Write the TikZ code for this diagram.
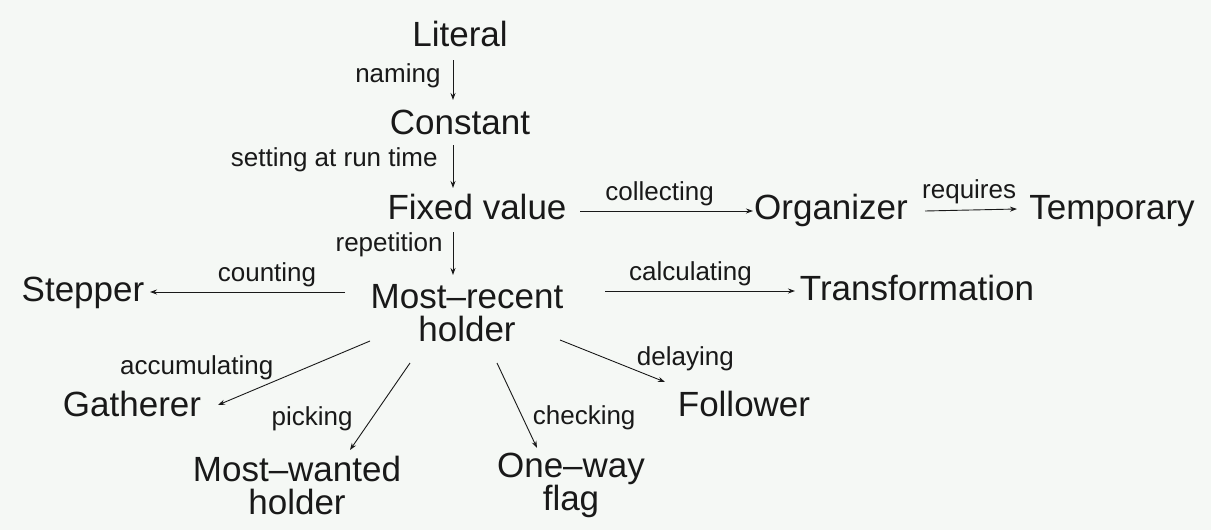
\documentclass[tikz,border=0pt]{standalone}
\usepackage{fontspec}
\setmainfont{Liberation Sans}
\usetikzlibrary{arrows.meta,positioning}
\definecolor{paper}{RGB}{245,248,245}
\definecolor{ink}{RGB}{25,25,25}

\begin{document}
\begin{tikzpicture}[x=1pt,y=-1pt,
        role/.style={on grid,text=ink,font=\fontsize{35}{34}\selectfont,
          text height=25pt,text depth=7pt,inner sep=0pt},
        role pair/.style={on grid,text=ink,font=\fontsize{35}{33}\selectfont,
          align=center,inner sep=0pt},
        act/.style={text=ink,font=\fontsize{26}{28}\selectfont,inner sep=3pt},
        flow/.style={draw=ink,line width=0.9pt,-{Stealth[length=7pt,width=5pt]}}]
        \fill[paper] (0,0) rectangle (1211,530);
        \useasboundingbox (0,0) rectangle (1211,530);

        % the hub and its roles
        \node[role pair] (mrh) at (467,313) {Most--recent\\holder};
        \node[role] (fix) [above right=103pt and 10pt of mrh] {Fixed value};
        \node[role] (con) [above left=85pt and 17pt of fix] {Constant};
        \node[role] (lit) [above=88pt of con] {Literal};
        \node[role] (org) [right=354pt of fix] {Organizer};
        \node[role] (tmp) [right=281pt of org] {Temporary};
        \node[role] (stp) [above left=21pt and 384pt of mrh] {Stepper};
        \node[role] (trf) [above right=22pt and 450pt of mrh] {Transformation};
        \node[role] (gat) [below left=94pt and 335pt of mrh] {Gatherer};
        \node[role pair] (mwh) [below left=172pt and 170pt of mrh] {Most--wanted\\holder};
        \node[role pair] (owf) [below right=172pt and 104pt of mrh] {One--way\\flag};
        \node[role] (fol) [below right=94pt and 277pt of mrh] {Follower};

        % down the column
        \draw[flow] ([shift={(-7,23)}]lit.center) -- node[act,left=9pt,pos=.4]{naming} ([shift={(-7,-25)}]con.center);
        \draw[flow] ([shift={(-7,20)}]con.center) -- node[act,left=12pt,pos=.35]{setting at run time} ([shift={(-24,-22)}]fix.center);
        \draw[flow] ([shift={(-24,22)}]fix.center) -- node[act,left=7pt,pos=.3]{repetition} ([shift={(-14,-38)}]mrh.center);

        \draw[flow] ([shift={(103,1)}]fix.center) -- node[act,above=2pt,pos=.46]{collecting} ([shift={(-78,1)}]org.center);
        \draw[flow] ([shift={(94,1)}]org.center) -- node[act,above=3pt,pos=.48]{requires} ([shift={(-95,-1)}]tmp.center);

        % out of the hub
        \draw[flow] ([shift={(-122,-21)}]mrh.center) -- node[act,above=2pt,pos=.4]{counting} ([shift={(67,0)}]stp.center);
        \draw[flow] ([shift={(138,-22)}]mrh.center) -- node[act,above=2pt,pos=.45]{calculating} ([shift={(-122,0)}]trf.center);
        \draw[flow] ([shift={(-97,28)}]mrh.center) -- node[act,pos=.85,anchor=south east,xshift=36pt,yshift=12pt]{accumulating} ([shift={(86,-2)}]gat.center);
        \draw[flow] ([shift={(-57,50)}]mrh.center) -- node[act,left=18pt,pos=.6,yshift=-4pt]{picking} ([shift={(53,-35)}]mwh.center);
        \draw[flow] ([shift={(30,50)}]mrh.center) -- node[act,right=8pt,pos=.61,yshift=-3pt]{checking} ([shift={(-34,-37)}]owf.center);
        \draw[flow] ([shift={(93,27)}]mrh.center) -- node[act,pos=.7,anchor=south west,yshift=-5pt]{delaying} ([shift={(-79,-25)}]fol.center);
\end{tikzpicture}
\end{document}
